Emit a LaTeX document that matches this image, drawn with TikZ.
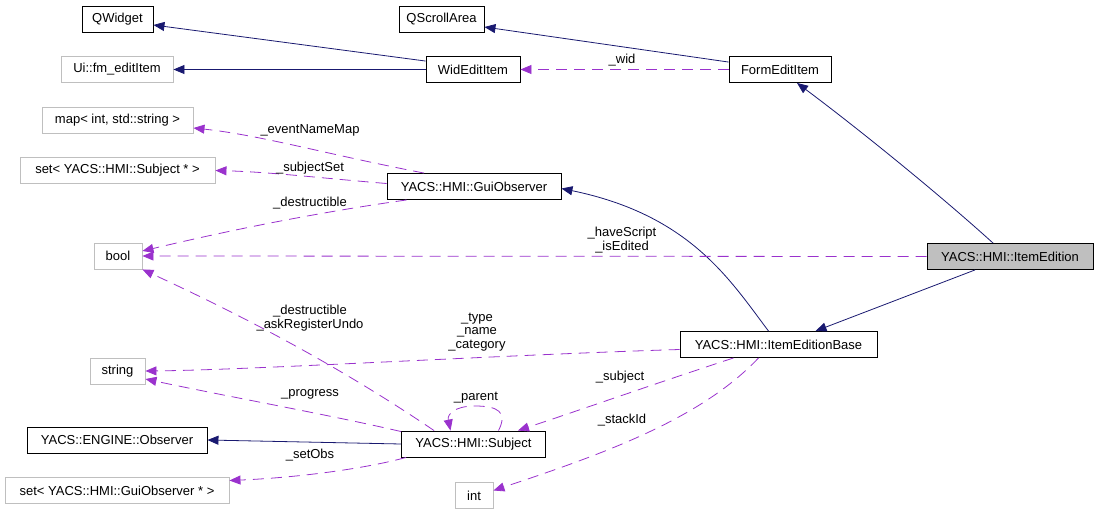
\documentclass[tikz,border=0pt]{standalone}
\usepackage{fontspec}
\setmainfont{Liberation Sans}
\usetikzlibrary{arrows.meta,calc}
\definecolor{navyc}{HTML}{191970}
\definecolor{purpc}{HTML}{9A32CD}
\definecolor{grayb}{HTML}{BFBFBF}
\begin{document}
\begin{tikzpicture}[x=1pt,y=-1pt,
  box/.style={draw=black,line width=0.9pt,minimum height=26pt,inner sep=0pt,font=\fontsize{13}{15}\selectfont,anchor=center},
  gbox/.style={box,draw=grayb},
  inh/.style={draw=navyc,line width=0.8pt,-{Triangle[length=11pt,width=9pt]}},
  use/.style={draw=purpc,line width=0.8pt,dash pattern=on 11pt off 7pt,-{Triangle[length=11pt,width=9pt]}},
  lbl/.style={font=\fontsize{13}{13.5}\selectfont,inner sep=0pt,align=center}]
\useasboundingbox (0,0) rectangle (1099,513);
% nodes
\node[box,minimum width=71pt] (qw) at (117.5,19) {QWidget};
\node[box,minimum width=85pt] (qs) at (441.5,19) {QScrollArea};
\node[gbox,minimum width=112pt] (ui) at (117,69.5) {Ui::fm\_editItem};
\node[box,minimum width=94pt] (wid) at (473,69.5) {WidEditItem};
\node[box,minimum width=102pt] (form) at (780,69.5) {FormEditItem};
\node[gbox,minimum width=151pt] (map) at (117.5,120) {map< int, std::string >};
\node[gbox,minimum width=195pt] (setsub) at (117.5,170.5) {set< YACS::HMI::Subject * >};
\node[box,minimum width=174pt] (gui) at (474,186.5) {YACS::HMI::GuiObserver};
\node[gbox,minimum width=48pt] (bool) at (118,256) {bool};
\node[box,fill=grayb,minimum width=166pt] (ie) at (1010,256.5) {YACS::HMI::ItemEdition};
\node[gbox,minimum width=55pt] (str) at (117.5,371) {string};
\node[box,minimum width=197pt] (ieb) at (778.5,344.5) {YACS::HMI::ItemEditionBase};
\node[box,minimum width=180pt] (obs) at (117,440) {YACS::ENGINE::Observer};
\node[box,minimum width=144pt] (sub) at (473.5,444) {YACS::HMI::Subject};
\node[gbox,minimum width=224pt] (setgui) at (117,490.5) {set< YACS::HMI::GuiObserver * >};
\node[gbox,minimum width=38pt] (int) at (474,495.5) {int};
% inheritance
\draw[inh] ($(wid.north west)+(0,5)$) -- ($(qw.east)+(0,6)$);
\draw[inh] (wid.west) -- (ui.east);
\draw[inh] ($(form.north west)+(0,6)$) -- ($(qs.east)+(0,8)$);
\draw[inh] ($(ie.north)+(-17,0)$) .. controls (940,195) and (860,130) .. ($(form.south)+(17,0)$);
\draw[inh] ($(ie.south)+(-35,0)$) -- ($(ieb.north)+(37,0)$);
\draw[inh] ($(ieb.north)+(-10,0)$) .. controls (730,280) and (690,215) .. ($(gui.east)+(0,2)$);
\draw[inh] (sub.west) -- (obs.east);
% usage
\draw[use] (form.west) -- (wid.east);
\node[lbl] (lwid) at (622,60) {\_wid};
\draw[use] (ie.west) -- (bool.east);
\node[lbl] (lhs) at (622,240) {\_haveScript\\\_isEdited};
\draw[use] ($(gui.north)+(-50,0)$) .. controls (330,155) and (260,135) .. ($(map.east)+(0,8)$);
\node[lbl] (lenm) at (310,130) {\_eventNameMap};
\draw[use] ($(gui.west)+(0,-3)$) .. controls (320,178) and (270,172) .. (setsub.east);
\node[lbl] (lss) at (310,168) {\_subjectSet};
\draw[use] ($(gui.south west)+(20,0)$) .. controls (300,215) and (210,235) .. ($(bool.east)+(0,-5)$);
\node[lbl] (ld1) at (310,203) {\_destructible};
\draw[use] ($(sub.north west)+(33,0)$) .. controls (330,360) and (230,310) .. (bool.south east);
\node[lbl] (ld2) at (310,318) {\_destructible\\\_askRegisterUndo};
\draw[use] ($(ieb.west)+(0,5)$) .. controls (500,355) and (250,370) .. (str.east);
\node[lbl] (ltype) at (477,332) {\_type\\\_name\\\_category};
\draw[use] ($(sub.north west)+(0,1)$) .. controls (330,415) and (220,395) .. ($(str.east)+(0,8)$);
\node[lbl] (lprog) at (310,394) {\_progress};
\draw[use] ($(sub.south west)+(5,0)$) .. controls (360,470) and (290,478) .. ($(setgui.east)+(0,-10)$);
\node[lbl] (lso) at (310,455) {\_setObs};
\draw[use] ($(sub.north)+(25,0)$) .. controls (508,412) and (498,406) .. (475,406) .. controls (455,406) and (447,414) .. ($(sub.north)+(-23,0)$);
\node[lbl] (lpar) at (476,398) {\_parent};
\draw[use] ($(ieb.south)+(-45,0)$) .. controls (660,382) and (580,410) .. ($(sub.north east)+(-28,0)$);
\node[lbl] (lsubj) at (620,377) {\_subject};
\draw[use] ($(ieb.south)+(-20,0)$) .. controls (700,420) and (600,455) .. ($(int.east)+(0,-5)$);
\node[lbl] (lstack) at (622,420) {\_stackId};
\end{tikzpicture}
\end{document}
